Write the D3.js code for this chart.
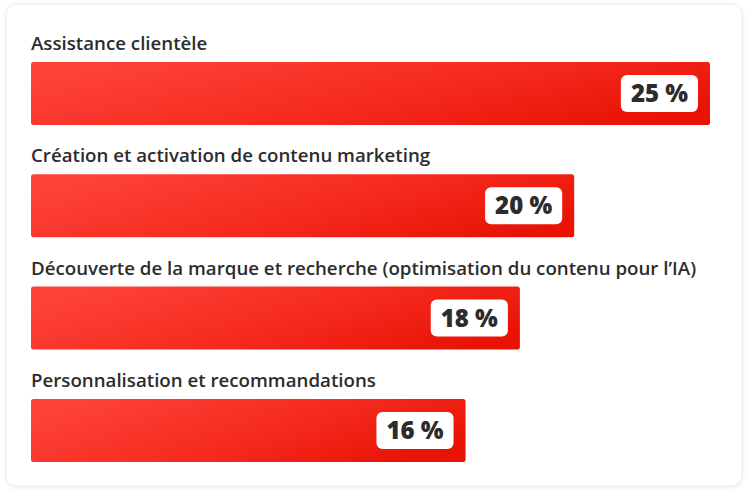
<!DOCTYPE html>
<html>
<head>
<meta charset="utf-8">
<script src="https://cdn.jsdelivr.net/npm/d3@7"></script>
<style>
html,body{margin:0;padding:0;background:#fff;}
svg{display:block;}
</style>
</head>
<body>
<svg id="chart" width="750" height="494"></svg>
<script>
const categories = [
  "Assistance clientèle",
  "Création et activation de contenu marketing",
  "Découverte de la marque et recherche (optimisation du contenu pour l’IA)",
  "Personnalisation et recommandations"
];
const values = [25, 20, 18, 16];
const valueLabels = ["25 %", "20 %", "18 %", "16 %"];

const svg = d3.select("#chart");
const defs = svg.append("defs");

const shadow = defs.append("filter").attr("id","cardShadow")
  .attr("x","-5%").attr("y","-5%").attr("width","110%").attr("height","110%");
shadow.append("feDropShadow").attr("dx",0).attr("dy",1).attr("stdDeviation",2)
  .attr("flood-color","#000").attr("flood-opacity",0.08);

const grad = defs.append("linearGradient").attr("id","barGrad")
  .attr("x1","0").attr("y1","0.3").attr("x2","1").attr("y2","0.7");
grad.append("stop").attr("offset","0%").attr("stop-color","#fe4238");
grad.append("stop").attr("offset","55%").attr("stop-color","#f52a1e");
grad.append("stop").attr("offset","100%").attr("stop-color","#e81305");

svg.append("rect")
  .attr("x",6).attr("y",4).attr("width",736).attr("height",482)
  .attr("rx",10).attr("fill","#fff").attr("stroke","#ebebeb").attr("stroke-width",1)
  .attr("filter","url(#cardShadow)");

const x = d3.scaleLinear().domain([0, 25]).range([31, 710]);
const y = d3.scaleBand().domain(categories).range([62, 62 + 112.3*4]).paddingInner(0);
const barH = 63;

const g = svg.append("g");
const rows = g.selectAll("g.row").data(categories).join("g").attr("class","row");

rows.append("text")
  .attr("x", x(0))
  .attr("y", d => y(d) - 12)
  .attr("font-family", "'Open Sans', sans-serif")
  .attr("font-weight", 600)
  .attr("font-size", 18.7)
  .attr("fill", "#2c2c2c")
  .text(d => d);

rows.append("rect")
  .attr("x", x(0))
  .attr("y", d => y(d))
  .attr("width", (d,i) => x(values[i]) - x(0))
  .attr("height", barH)
  .attr("rx", 2.5)
  .attr("fill", "url(#barGrad)");

const badges = rows.append("g");
badges.each(function(d,i){
  const b = d3.select(this);
  const t = b.append("text")
    .attr("font-family", "'Open Sans', sans-serif")
    .attr("font-weight", 800)
    .attr("font-size", 24)
    .attr("fill", "#2c2c2c")
    .attr("text-anchor", "middle")
    .text(valueLabels[i]);
  const w = t.node().getComputedTextLength() + 20;
  const h = 37;
  const right = x(values[i]) - 12;
  const cy = y(d) + barH/2;
  b.insert("rect","text")
    .attr("x", right - w).attr("y", cy - h/2)
    .attr("width", w).attr("height", h).attr("rx", 6)
    .attr("fill", "#fff");
  t.attr("x", right - w/2).attr("y", cy + 8.5);
});
</script>
</body>
</html>
